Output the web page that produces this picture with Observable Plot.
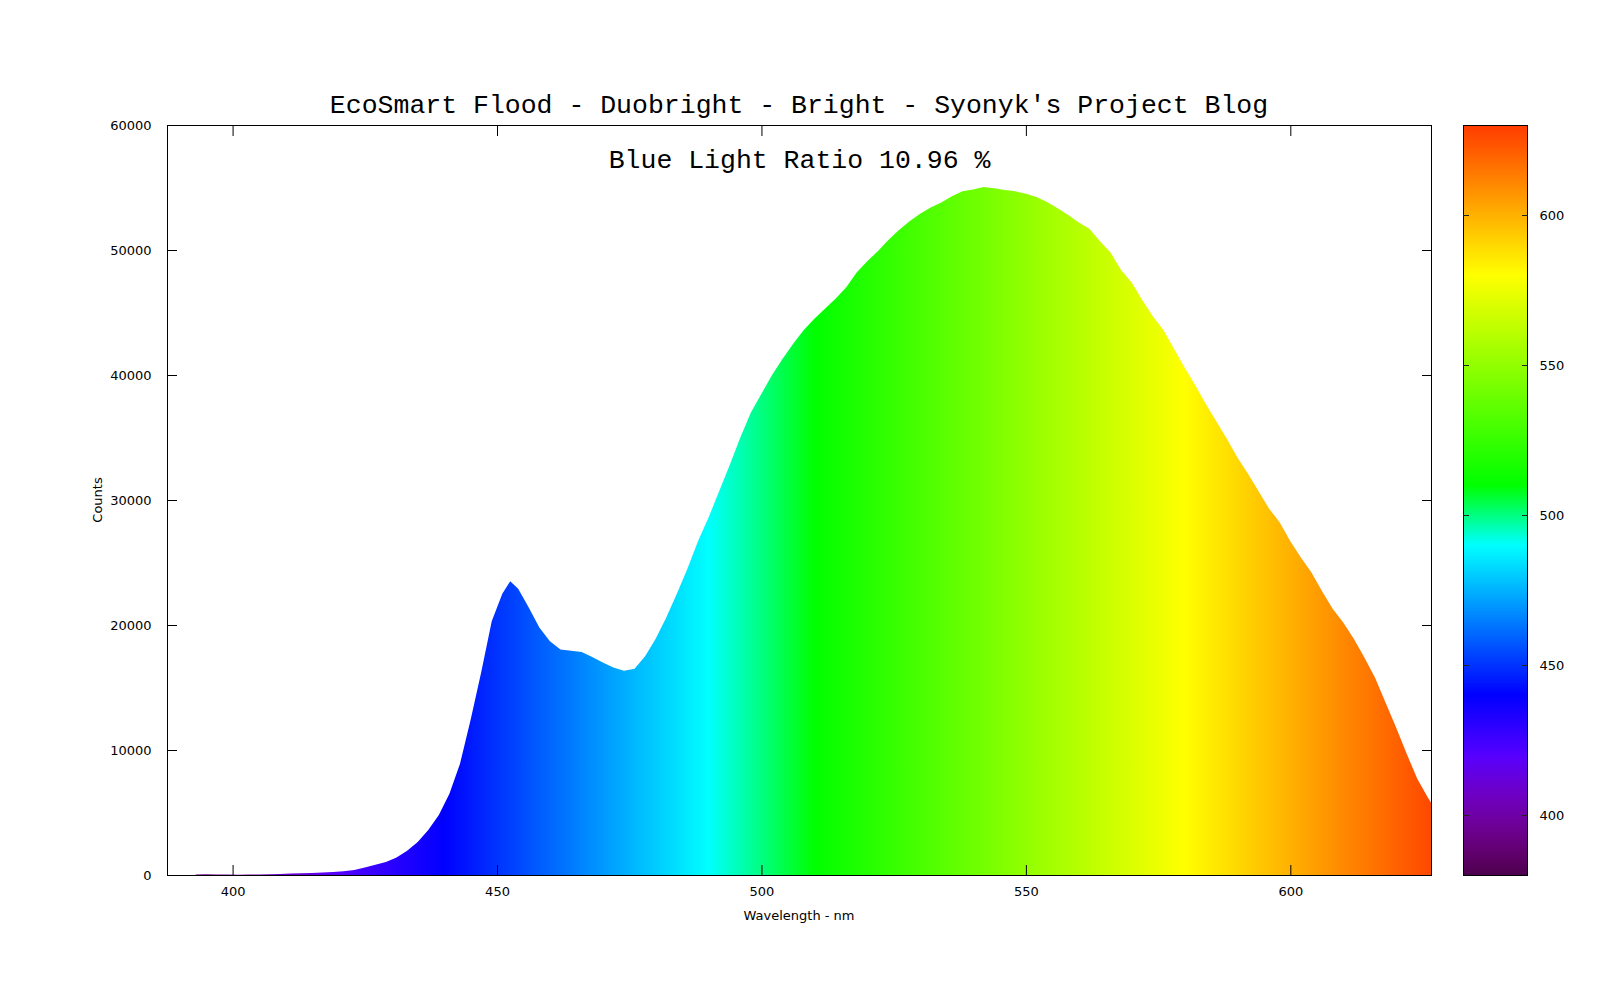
<!DOCTYPE html>
<html>
<head>
<meta charset="utf-8">
<script src="https://cdn.jsdelivr.net/npm/d3@7"></script>
<script src="https://cdn.jsdelivr.net/npm/@observablehq/plot@0.6"></script>
<style>
html, body { margin: 0; padding: 0; background: #fff; }
#wrap { position: relative; width: 1600px; height: 1000px; overflow: hidden; font-family: "DejaVu Sans", sans-serif; }
#wrap svg { position: absolute; top: 0; }
.lbl { position: absolute; transform: translate(-50%, -50%); white-space: nowrap; color: #000; }
.mono { font-family: "Liberation Mono", "Courier New", monospace; font-size: 26.5px; }
.sans { font-family: "DejaVu Sans", sans-serif; font-size: 13px; }
</style>
</head>
<body>
<div id="wrap"></div>
<script>
// ---- data ----
const titleText = "EcoSmart Flood - Duobright - Bright - Syonyk's Project Blog";
const ratioText = "Blue Light Ratio 10.96 %";
const xLabel = "Wavelength - nm";
const yLabel = "Counts";

const wavelengths = [393,395,397,399,401,403,405,407,409,411,413,415,417,419,421,423,425,427,429,431,
  433,435,437,439,441,443,445,447,449,451,452.5,454,456,458,460,462,464,466,468,470,
  472,474,476,478,480,482,484,486,488,490,492,494,496,498,500,502,504,506,508,510,
  512,514,516,518,520,522,524,526,528,530,532,534,536,538,540,542,544,546,548,550,
  552,554,556,558,560,562,564,566,568,570,572,574,576,578,580,582,584,586,588,590,
  592,594,596,598,600,602,604,606,608,610,612,614,616,618,620,622,624,626,626.6];
const counts = [50,60,40,50,30,40,50,60,80,120,150,170,200,240,300,400,600,820,1050,1400,
  1950,2650,3600,4800,6500,8900,12400,16200,20300,22500,23500,22900,21400,19800,18700,18050,17950,17850,17450,17000,
  16600,16350,16500,17500,18900,20600,22500,24500,26700,28600,30700,32800,35000,37000,38500,40000,41300,42500,43600,44500,
  45300,46100,47000,48200,49100,49900,50800,51600,52300,52900,53400,53800,54300,54700,54850,55050,54950,54800,54700,54500,
  54250,53850,53350,52800,52200,51700,50700,49800,48400,47400,46000,44700,43600,42100,40600,39200,37700,36300,34900,33400,
  32100,30700,29300,28200,26700,25400,24200,22700,21300,20200,18900,17400,15800,13800,11800,9700,7700,6200,5800];

const xTicks = [400, 450, 500, 550, 600];
const yTicks = [0, 10000, 20000, 30000, 40000, 50000, 60000];
const cbTicks = [400, 450, 500, 550, 600];
const xDomain = [387.6, 626.6];
const yDomain = [0, 60000];
const cbDomain = [380, 630];

// ---- palette: wavelength -> visible colour ----
function wlColor(w) {
  let r, g, b;
  if (w < 440) { r = -(w - 440) / 60; g = 0; b = 1; }
  else if (w < 490) { r = 0; g = (w - 440) / 50; b = 1; }
  else if (w < 510) { r = 0; g = 1; b = -(w - 510) / 20; }
  else if (w < 580) { r = (w - 510) / 70; g = 1; b = 0; }
  else if (w < 645) { r = 1; g = -(w - 645) / 65; b = 0; }
  else { r = 1; g = 0; b = 0; }
  const f = w < 420 ? 0.3 + 0.7 * (w - 380) / 40 : 1;
  const c = v => Math.round(Math.max(0, Math.min(1, v * f)) * 255);
  return `rgb(${c(r)}, ${c(g)}, ${c(b)})`;
}

const data = wavelengths.map((w, i) => ({w, v: counts[i]}));
const wrap = document.getElementById("wrap");

const axisStyle = {fontSize: 13, fontFamily: "DejaVu Sans, sans-serif"};

const chart = Plot.plot({
  width: 1600,
  height: 1000,
  marginLeft: 167,
  marginRight: 169,
  marginTop: 125,
  marginBottom: 125,
  style: {background: "transparent", fontFamily: "DejaVu Sans, sans-serif", fontSize: "13px", color: "#000"},
  x: {domain: xDomain},
  y: {domain: yDomain},
  marks: [
    Plot.areaY(data, {x: "w", y: "v", fill: "url(#specGrad)", curve: "linear"}),
    Plot.frame({stroke: "#000", strokeWidth: 1}),
    // inward ticks (mirrored on all sides)
    Plot.axisX(xTicks, {anchor: "bottom", tickSize: -10, tickFormat: () => "", label: null, stroke: "#000"}),
    Plot.axisX(xTicks, {anchor: "top", tickSize: -10, tickFormat: () => "", label: null, stroke: "#000"}),
    Plot.axisY(yTicks, {anchor: "left", tickSize: -10, tickFormat: () => "", label: null, stroke: "#000"}),
    Plot.axisY(yTicks, {anchor: "right", tickSize: -10, tickFormat: () => "", label: null, stroke: "#000"}),
    // tick labels
    Plot.axisX(xTicks, {anchor: "bottom", tickSize: 0, tickPadding: 11.5, label: null, tickFormat: d => String(d), ...axisStyle}),
    Plot.axisY(yTicks, {anchor: "left", tickSize: 0, tickPadding: 16, label: null, tickFormat: d => String(d), ...axisStyle}),
    Plot.text([ratioText], {text: d => d, frameAnchor: "top", dy: 34, fontSize: 26.5, fontFamily: "Liberation Mono, Courier New, monospace", fill: "#000"})
  ]
});
chart.style.left = "0px";
wrap.appendChild(chart);

// gradient in user space mapped through the x scale
const xs = chart.scale("x");
const defs = d3.select(chart).insert("defs", ":first-child");
const grad = defs.append("linearGradient")
  .attr("id", "specGrad")
  .attr("gradientUnits", "userSpaceOnUse")
  .attr("x1", xs.apply(cbDomain[0])).attr("x2", xs.apply(cbDomain[1]))
  .attr("y1", 0).attr("y2", 0);
d3.range(cbDomain[0], cbDomain[1] + 0.01, 2).forEach(w => {
  grad.append("stop")
    .attr("offset", (w - cbDomain[0]) / (cbDomain[1] - cbDomain[0]))
    .attr("stop-color", wlColor(w));
});

// colour bar
const cbSteps = d3.range(cbDomain[0], cbDomain[1], 0.5);
const cbar = Plot.plot({
  width: 154,
  height: 1000,
  marginLeft: 10,
  marginRight: 80,
  marginTop: 125,
  marginBottom: 125,
  style: {background: "transparent", fontFamily: "DejaVu Sans, sans-serif", fontSize: "13px", color: "#000"},
  x: {domain: [0, 1], axis: null},
  y: {domain: cbDomain},
  marks: [
    Plot.rect(cbSteps, {x1: 0, x2: 1, y1: d => d, y2: d => Math.min(d + 0.75, cbDomain[1]), fill: d => wlColor(d + 0.25)}),
    Plot.frame({stroke: "#000", strokeWidth: 1}),
    Plot.axisY(cbTicks, {anchor: "left", tickSize: -6, tickFormat: () => "", label: null, stroke: "#222"}),
    Plot.axisY(cbTicks, {anchor: "right", tickSize: -6, tickFormat: () => "", label: null, stroke: "#222"}),
    Plot.axisY(cbTicks, {anchor: "right", tickSize: 0, tickPadding: 12, label: null, tickFormat: d => String(d), ...axisStyle})
  ]
});
cbar.style.left = "1453px";
wrap.appendChild(cbar);

// fix position of in-plot ratio text (move slightly up to match)
d3.select(chart).selectAll("text").filter(function() { return this.textContent === ratioText; })
  .attr("transform", function() { return (this.getAttribute("transform") || "") + " translate(0,-10)"; });

// titles and axis labels
function addLabel(text, x, y, cls, rotate) {
  const d = document.createElement("div");
  d.className = "lbl " + cls;
  d.textContent = text;
  d.style.left = x + "px";
  d.style.top = y + "px";
  if (rotate) d.style.transform = "translate(-50%, -50%) rotate(-90deg)";
  wrap.appendChild(d);
}
addLabel(titleText, 799, 106, "mono");
addLabel(xLabel, 799, 915, "sans");
addLabel(yLabel, 97, 500, "sans", true);
</script>
</body>
</html>
